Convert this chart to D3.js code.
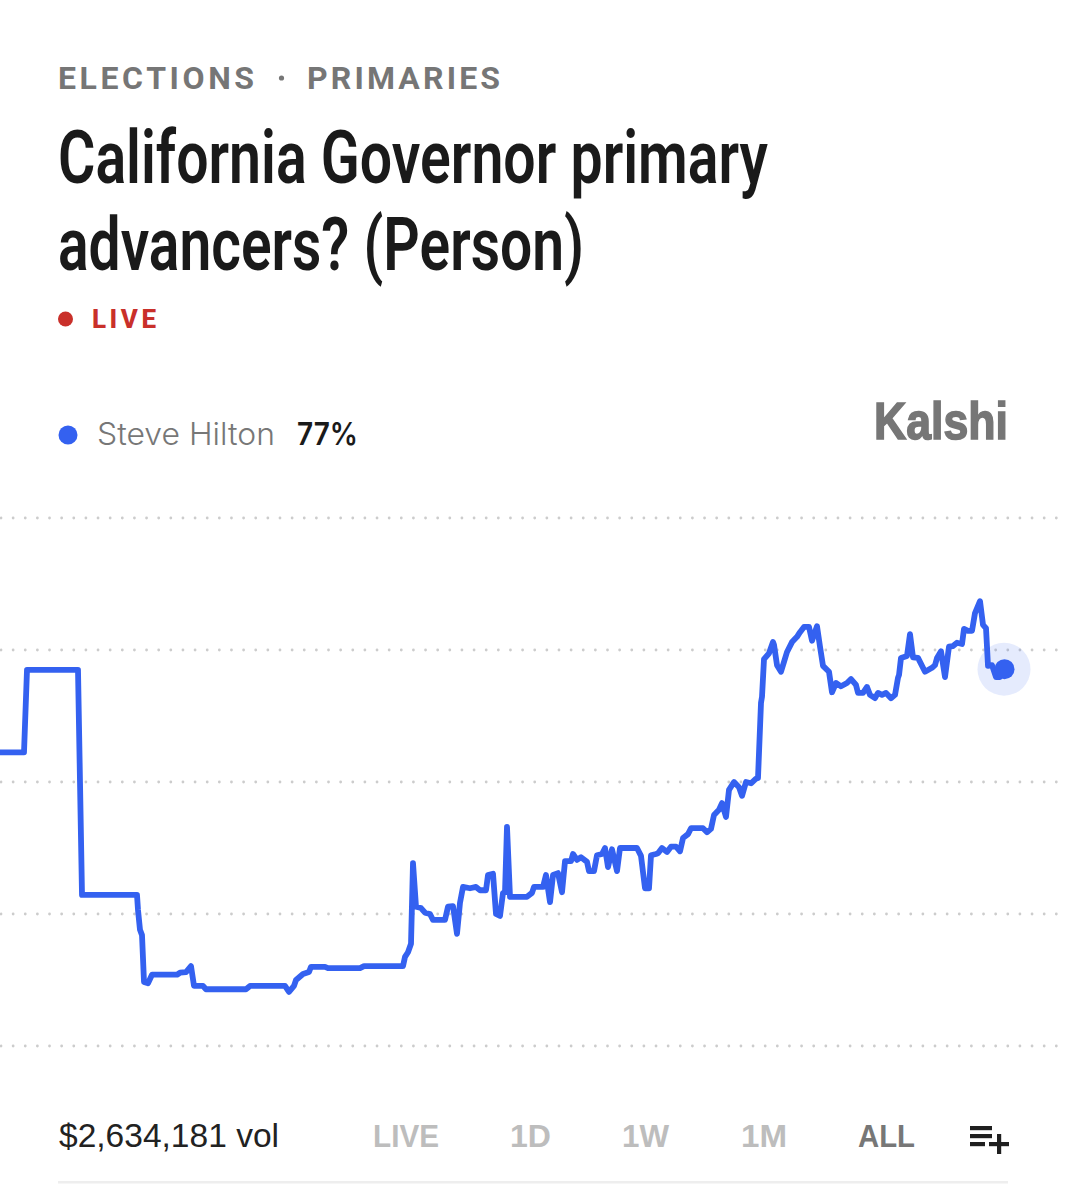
<!DOCTYPE html>
<html>
<head>
<meta charset="utf-8">
<script src="https://cdn.jsdelivr.net/npm/d3@7/dist/d3.min.js"></script>
<style>
  html, body { margin: 0; padding: 0; background: #fff; }
  svg { display: block; }
  text { font-family: Inter, Roboto, sans-serif; }
</style>
</head>
<body>
<div id="chart"></div>
<script>
var sectionLabels = ['ELECTIONS', 'PRIMARIES'];
var titleLines = ['California Governor primary', 'advancers? (Person)'];
var seriesName = 'Steve Hilton';
var latestLabel = '77%';
var volumeLabel = '$2,634,181 vol';
var ranges = ['LIVE', '1D', '1W', '1M', 'ALL'];
var yTicks = [100, 80, 60, 40, 20];

// the picture has no time axis, so days is just a relative position
var days = [
  0, 2.4, 2.7, 7.8, 8.0, 8.2, 13.7, 13.8, 14.0, 14.2, 14.4, 14.8, 15.2, 17.7, 18.0, 18.6, 19.1, 19.4, 20.3, 20.6,
  24.6, 25.0, 28.5, 28.9, 29.4, 29.6, 30.3, 30.9, 31.1, 32.5, 32.8, 36.0, 36.4, 40.3, 40.5, 40.8, 41.1, 41.3, 41.6, 42.1,
  42.5, 43.0, 43.3, 44.5, 44.8, 45.3, 45.7, 46.0, 46.3, 47.0, 47.6, 48.0, 48.6, 48.8, 49.3, 49.6, 50.0, 50.3, 50.5, 50.7,
  51.0, 52.7, 53.2, 53.4, 54.3, 54.6, 55.0, 55.3, 55.8, 56.2, 56.5, 57.1, 57.3, 57.7, 58.1, 58.7, 58.9, 59.4, 59.7, 60.2,
  60.5, 60.8, 61.2, 61.7, 62.0, 63.7, 64.1, 64.5, 64.9, 65.1, 65.6, 65.8, 66.2, 66.7, 67.1, 67.6, 68.0, 68.3, 68.8, 69.1,
  70.3, 70.7, 71.1, 71.4, 71.9, 72.2, 72.6, 72.9, 73.4, 73.9, 74.2, 74.6, 75.1, 75.6, 75.8, 76.1, 76.2, 76.4, 76.9, 77.3,
  77.4, 77.7, 78.1, 78.4, 78.7, 79.2, 79.7, 80.0, 80.4, 80.9, 81.2, 81.7, 82.0, 82.3, 82.9, 83.2, 83.6, 84.1, 84.7, 85.1,
  85.6, 85.8, 86.3, 86.7, 87.0, 87.5, 87.8, 88.2, 88.6, 89.1, 89.5, 89.8, 89.9, 90.1, 90.7, 91.0, 91.3, 91.8, 92.5, 93.2,
  93.5, 93.7, 94.1, 94.5, 94.9, 95.3, 95.7, 96.2, 96.4, 96.8, 97.2, 97.5, 98.0, 98.3, 98.6, 98.8, 99.2, 99.6, 100.0, 100.5
];
var chance = [
  64.5, 64.5, 77.0, 77.0, 60.0, 42.9, 42.9, 40.6, 37.6, 36.8, 29.7, 29.5, 30.8, 30.8, 31.1, 31.2, 32.1, 29.1, 29.1, 28.6,
  28.6, 29.1, 29.1, 28.2, 29.1, 30.0, 30.9, 31.2, 32.0, 32.0, 31.8, 31.8, 32.1, 32.1, 33.5, 34.2, 35.5, 47.7, 41.1, 40.9,
  40.2, 40.0, 39.1, 39.1, 41.1, 41.2, 37.0, 41.7, 44.1, 43.9, 44.1, 43.6, 43.6, 45.9, 46.1, 40.0, 39.7, 43.2, 43.3, 53.2,
  42.6, 42.6, 43.2, 44.1, 44.1, 45.9, 41.8, 45.9, 46.2, 43.3, 48.0, 48.0, 49.1, 48.2, 48.6, 47.9, 46.5, 46.5, 48.9, 49.1,
  50.0, 47.1, 49.8, 46.5, 50.0, 50.0, 48.8, 43.9, 43.9, 48.9, 49.1, 49.2, 50.0, 49.4, 50.2, 50.2, 49.5, 51.5, 52.1, 53.0,
  53.0, 52.4, 52.9, 55.0, 55.8, 56.8, 54.7, 58.8, 60.0, 59.2, 57.9, 60.0, 59.8, 60.5, 60.6, 72.0, 72.9, 78.6, 79.5, 81.2,
  80.8, 77.7, 76.7, 78.2, 79.7, 81.2, 82.0, 82.7, 83.5, 83.5, 81.4, 83.6, 80.5, 77.6, 76.7, 73.6, 75.0, 74.5, 75.0, 75.6,
  74.7, 73.5, 73.5, 74.4, 73.2, 72.7, 73.5, 73.2, 73.5, 72.7, 73.2, 75.8, 76.2, 78.8, 79.1, 82.4, 78.9, 78.8, 76.7, 77.3,
  77.7, 78.8, 79.8, 75.9, 80.5, 80.6, 81.1, 80.9, 83.2, 82.9, 82.9, 85.6, 87.4, 83.8, 83.3, 77.6, 77.7, 75.9, 75.9, 77.1
];

var width = 1066, height = 1200;
var lineColor = '#3461f0';

var x = d3.scaleLinear().domain([0, 100.5]).range([0, 1005]);
var y = d3.scaleLinear().domain([20, 100]).range([1046, 518]);

var svg = d3.select('#chart').append('svg')
  .attr('width', width)
  .attr('height', height)
  .style('background', '#fff');

// header
svg.append('text').text(sectionLabels[0])
  .attr('x', 58).attr('y', 89)
  .attr('textLength', 196).attr('lengthAdjust', 'spacing')
  .style('font-family', 'Roboto').style('font-size', '32px').style('font-weight', 700)
  .attr('fill', '#767676');
svg.append('circle').attr('cx', 281.5).attr('cy', 78).attr('r', 2.6).attr('fill', '#767676');
svg.append('text').text(sectionLabels[1])
  .attr('x', 307).attr('y', 89)
  .attr('textLength', 193).attr('lengthAdjust', 'spacing')
  .style('font-family', 'Roboto').style('font-size', '32px').style('font-weight', 700)
  .attr('fill', '#767676');

svg.selectAll('.title').data(titleLines).enter().append('text')
  .attr('class', 'title')
  .text(function(d){ return d; })
  .attr('x', 58)
  .attr('y', function(d, i){ return i === 0 ? 183 : 270; })
  .attr('textLength', function(d, i){ return i === 0 ? 710 : 526; })
  .attr('lengthAdjust', 'spacingAndGlyphs')
  .style('font-family', 'Roboto').style('font-size', '74px').style('font-weight', 600)
  .attr('fill', '#1a1a1a');

svg.append('circle').attr('cx', 65.5).attr('cy', 319).attr('r', 7.5).attr('fill', '#c9302a');
svg.append('text').text('LIVE')
  .attr('x', 92).attr('y', 328)
  .attr('textLength', 64).attr('lengthAdjust', 'spacing')
  .style('font-family', 'Roboto').style('font-size', '26px').style('font-weight', 800)
  .attr('fill', '#c9302a');

// legend
svg.append('circle').attr('cx', 68).attr('cy', 435).attr('r', 9.5).attr('fill', lineColor);
svg.append('text').text(seriesName)
  .attr('x', 97).attr('y', 445)
  .attr('textLength', 178).attr('lengthAdjust', 'spacingAndGlyphs')
  .style('font-size', '31px').style('font-weight', 300)
  .attr('fill', '#777');
svg.append('text').text(latestLabel)
  .attr('x', 297).attr('y', 445)
  .attr('textLength', 61).attr('lengthAdjust', 'spacingAndGlyphs')
  .style('font-size', '31px').style('font-weight', 600)
  .attr('fill', '#1a1a1a');
svg.append('text').text('Kalshi')
  .attr('x', 874).attr('y', 439)
  .attr('textLength', 134).attr('lengthAdjust', 'spacingAndGlyphs')
  .style('font-family', '"Liberation Sans"').style('font-size', '52px').style('font-weight', 700)
  .attr('fill', '#767676')
  .attr('stroke', '#767676')
  .attr('stroke-width', 1.6);

// dotted gridlines
var grid = svg.append('g').attr('class', 'grid')
  .call(d3.axisRight(y).tickValues(yTicks).tickSize(1058).tickFormat('').offset(0));
grid.select('.domain').remove();
grid.selectAll('.tick line')
  .attr('stroke', '#cccccc')
  .attr('stroke-width', 2.8)
  .attr('stroke-linecap', 'round')
  .attr('stroke-dasharray', '0 12.13')
  .attr('stroke-dashoffset', -1);

// price line
var line = d3.line()
  .x(function(d){ return x(d); })
  .y(function(d, i){ return y(chance[i]); });

svg.append('path')
  .attr('d', line(days))
  .attr('fill', 'none')
  .attr('stroke', lineColor)
  .attr('stroke-width', 5.8)
  .attr('stroke-linejoin', 'round')
  .attr('stroke-linecap', 'round');

var lastDay = days[days.length - 1];
var lastVal = chance[chance.length - 1];
svg.append('circle')
  .attr('cx', x(lastDay) - 1).attr('cy', y(lastVal)).attr('r', 26.5)
  .attr('fill', lineColor).attr('fill-opacity', 0.13);
svg.append('circle')
  .attr('cx', x(lastDay) - 0.5).attr('cy', y(lastVal)).attr('r', 10)
  .attr('fill', lineColor);

// footer
svg.append('text').text(volumeLabel)
  .attr('x', 59).attr('y', 1147)
  .attr('textLength', 220).attr('lengthAdjust', 'spacingAndGlyphs')
  .style('font-family', '"Liberation Sans"').style('font-size', '33px').style('font-weight', 400)
  .attr('fill', '#222');

var rangeX = d3.scaleOrdinal().domain(ranges).range([373, 510, 622, 741, 858]);
var rangeW = d3.scaleOrdinal().domain(ranges).range([66, 41, 47, 46, 57]);
svg.selectAll('.range').data(ranges).enter().append('text')
  .attr('class', 'range')
  .text(function(d){ return d; })
  .attr('x', function(d){ return rangeX(d); })
  .attr('y', 1147)
  .attr('textLength', function(d){ return rangeW(d); })
  .attr('lengthAdjust', 'spacingAndGlyphs')
  .style('font-family', '"Liberation Sans"').style('font-size', '32px').style('font-weight', 700)
  .attr('fill', function(d){ return d === 'ALL' ? '#777' : '#bdbdbd'; });

// add-to-list icon
var icon = svg.append('g').attr('fill', '#1f1f1f');
icon.append('rect').attr('x', 970).attr('y', 1126).attr('width', 22).attr('height', 4.2);
icon.append('rect').attr('x', 970).attr('y', 1134).attr('width', 22).attr('height', 4.2);
icon.append('rect').attr('x', 970).attr('y', 1142).attr('width', 15).attr('height', 4.2);
icon.append('rect').attr('x', 989).attr('y', 1142).attr('width', 20).attr('height', 4.2);
icon.append('rect').attr('x', 997).attr('y', 1134).attr('width', 4.2).attr('height', 20);

svg.append('rect').attr('x', 58).attr('y', 1181).attr('width', 950).attr('height', 2.5).attr('fill', '#eeeeee');
</script>
</body>
</html>
